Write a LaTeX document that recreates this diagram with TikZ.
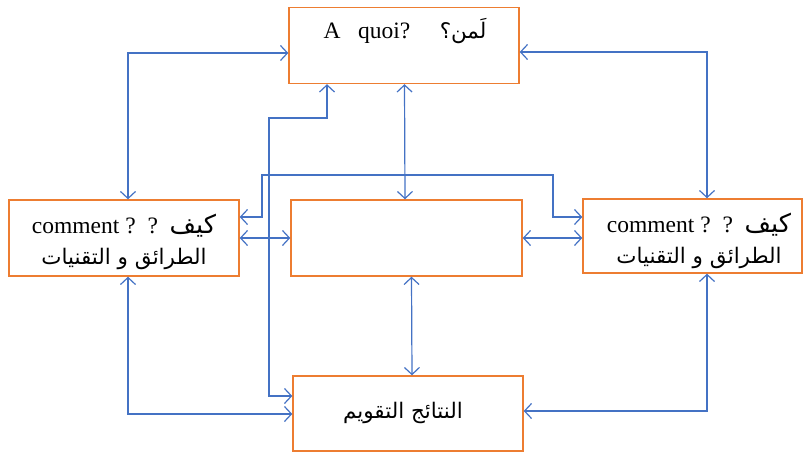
\documentclass[tikz,border=0pt]{standalone}
\usepackage{fontspec}
\setmainfont{Liberation Serif}
\newfontfamily\arabicfont[Script=Arabic,Scale=0.913]{DejaVu Sans}
\TeXXeTstate=1
\usetikzlibrary{arrows.meta}
\definecolor{boxorange}{RGB}{237,125,49}
\definecolor{lineblue}{RGB}{68,114,196}
\newcommand{\kayf}{{\fontsize{28}{30}\selectfont\arabicfont\beginR كيف\endR}}
\tikzset{
  box/.style={draw=boxorange,line width=1.4pt,minimum width=#1,inner sep=0pt},
  box/.default=230pt,
  conn/.style={draw=lineblue,line width=1.2pt,{Straight Barb[length=7pt,width=15pt]}-{Straight Barb[length=7pt,width=15pt]}},
  txt/.style={font=\fontsize{23.5}{30.5}\selectfont,align=center,inner sep=0pt},
}
\begin{document}
\begin{tikzpicture}[x=1pt,y=-1pt]
\useasboundingbox (0,0) rectangle (804,452);
\node[box=230pt,minimum height=76pt] (top) at (404,45.5) {};
\node[box=230pt,minimum height=76pt] (left) at (124,238) {};
\node[box=231pt,minimum height=76pt] (mid) at (406.5,238) {};
\node[box=219pt,minimum height=74pt] (right) at (692.5,236) {};
\node[box=230pt,minimum height=75pt] (bot) at (408,413.5) {};
% texts
\node[txt] (toptext) at (405,31) {A\ \ \ quoi?\ \ \ \ \ {\arabicfont\beginR لَمن؟\endR}};
\node[txt] (lefttext) at (124,242) {comment ?\ \ ?\ \ \kayf\\{\arabicfont\beginR الطرائق و التقنيات\endR}};
\node[txt] (righttext) at (699,241) {comment ?\ \ ?\ \ \kayf\\{\arabicfont\beginR الطرائق و التقنيات\endR}};
\node[txt] (bottext) at (403,413) {\arabicfont\beginR النتائج التقويم\endR};
% helper coordinates
\coordinate (c9a) at (327,118);
\coordinate (c9b) at (269,118);
\coordinate (c10a) at (262,175);
\coordinate (c10b) at (553,175);
% connectors
\draw[conn] ([xshift=4pt]left.north) |- ([yshift=-7.5pt]top.west);
\draw[conn] ([yshift=-6.5pt]top.east) -| ([xshift=14.5pt]right.north);
\draw[conn] ([xshift=4pt]left.south) |- ([yshift=-0.5pt]bot.west);
\draw[conn] ([xshift=14.5pt]right.south) |- ([yshift=2.5pt]bot.east);
\draw[conn] ([xshift=0.5pt]top.south) -- ([xshift=-1.5pt]mid.north);
\draw[conn] ([xshift=5pt]mid.south) -- ([xshift=4pt]bot.north);
\draw[conn] (left.east) -- (mid.west);
\draw[conn] (mid.east) -- ([yshift=-2pt]right.west);
\draw[conn] ([xshift=-77pt]top.south) -- (c9a) -- (c9b) |- ([yshift=17.5pt]bot.west);
\draw[conn] ([yshift=21pt]left.east) -| (c10a) -- (c10b) |- ([yshift=19pt]right.west);
\end{tikzpicture}
\end{document}
